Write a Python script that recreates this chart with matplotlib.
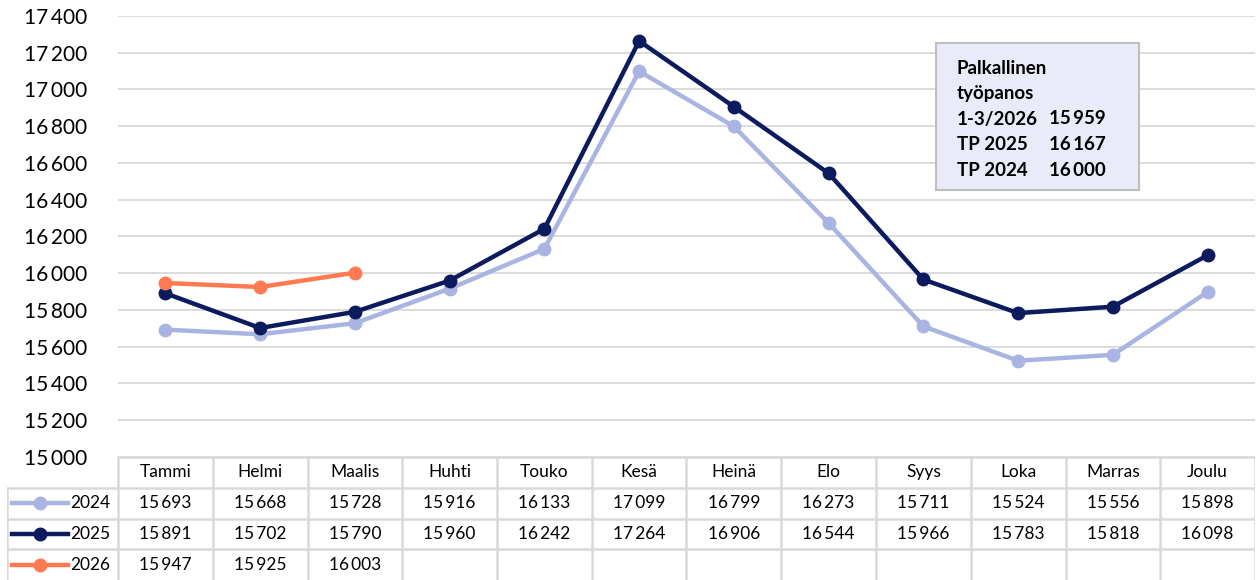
import numpy as np
import matplotlib.pyplot as plt

plt.rcParams['font.family'] = ['Lato', 'DejaVu Sans']

months = ['Tammi', 'Helmi', 'Maalis', 'Huhti', 'Touko', 'Kesä',
          'Heinä', 'Elo', 'Syys', 'Loka', 'Marras', 'Joulu']
v2024 = [15693, 15668, 15728, 15916, 16133, 17099, 16799, 16273, 15711, 15524, 15556, 15898]
v2025 = [15891, 15702, 15790, 15960, 16242, 17264, 16906, 16544, 15966, 15783, 15818, 16098]
v2026 = [15947, 15925, 16003]
yticks = np.arange(15000, 17401, 200)
box_title = ['Palkallinen', 'työpanos']
box_labels = ['1-3/2026', 'TP 2025', 'TP 2024']
box_values = [15959, 16167, 16000]

series = [('2024', v2024, '#A9B4E2'), ('2025', v2025, '#0C1A5E'), ('2026', v2026, '#FF7A50')]

def fmt(v):
    s = f'{v:,}'
    return s.replace(',', '\u2009')

W, H = 1256, 580
fig = plt.figure(figsize=(W / 100, H / 100), dpi=100)
grid_c = '#D9D9D9'

# main chart
ax = fig.add_axes([118 / W, 1 - 457 / H, (1255 - 118) / W, (457 - 16) / H])
x = np.arange(len(months))
for name, vals, col in series:
    ax.plot(x[:len(vals)], vals, color=col, lw=3.2, marker='o', ms=9, zorder=3)
ax.set_xlim(-0.5, 11.5)
ax.set_ylim(15000, 17400)
ax.set_yticks(yticks)
ax.set_yticklabels([fmt(t) for t in yticks], fontsize=15)
ax.tick_params(axis='y', length=0, pad=22)
ax.set_xticks([])
ax.grid(axis='y', color=grid_c, lw=1.3)
ax.set_axisbelow(True)
for s in ax.spines.values():
    s.set_visible(False)

# text box
bx0, by0 = 936 / W, 1 - 190 / H
fig.patches.append(plt.Rectangle((bx0, by0), (1139 - 936) / W, (190 - 43) / H,
                                 transform=fig.transFigure, facecolor='#E9EBF8',
                                 edgecolor='#BFBFBF', lw=1.5, zorder=5))
rows = [(t, '') for t in box_title] + [(l, fmt(v)) for l, v in zip(box_labels, box_values)]
for i, (lab, val) in enumerate(rows):
    yy = 1 - (68 + i * 25.5) / H
    fig.text(957 / W, yy, lab, fontsize=13.5, fontweight='bold',
             va='center', ha='left', zorder=6)
    if val:
        fig.text(1049 / W, yy, val, fontsize=13.5, fontweight='bold',
                 va='center', ha='left', zorder=6)

# data table
tx0 = 7
left = -0.5 - (118 - tx0) / ((1255 - 118) / 12)
tab = fig.add_axes([tx0 / W, 0, (1255 - tx0) / W, (580 - 457) / H])
tab.set_xlim(left, 11.5)
tab.set_ylim(0, 4)
tab.axis('off')
lw = 1.8
for k in range(13):
    tab.plot([k - 0.5, k - 0.5], [0, 4], color=grid_c, lw=lw)
tab.plot([left, left], [0, 3], color=grid_c, lw=lw)
tab.plot([-0.5, 11.5], [4, 4], color=grid_c, lw=lw)
for yy in [3, 2, 1]:
    tab.plot([left, 11.5], [yy, yy], color=grid_c, lw=lw)
for i, m in enumerate(months):
    tab.text(i, 3.5, m, ha='center', va='center', fontsize=12.5)
unit = 1 / ((1255 - 118) / 12)
for r, (name, vals, col) in enumerate(series):
    yc = 2.5 - r
    tab.plot([left + 5 * unit, left + 61 * unit], [yc, yc], color=col, lw=3.2)
    tab.plot([left + 33 * unit], [yc], color=col, marker='o', ms=9)
    tab.text(left + 63 * unit, yc, name, ha='left', va='center', fontsize=12.5)
    for i, v in enumerate(vals):
        tab.text(i, yc, fmt(v), ha='center', va='center', fontsize=12.5)

fig.savefig('out.png', dpi=100)
